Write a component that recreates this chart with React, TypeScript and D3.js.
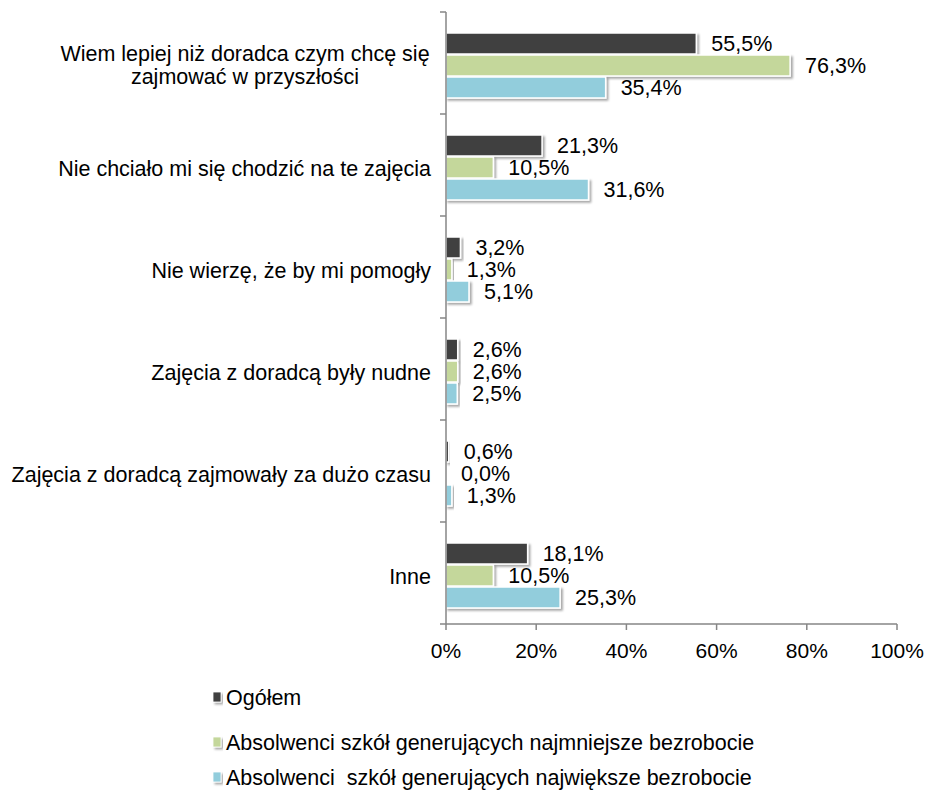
import React from "react";
import * as d3 from "d3";

const categories = [
  ["Wiem lepiej niż doradca czym chcę się", "zajmować w przyszłości"],
  ["Nie chciało mi się chodzić na te zajęcia"],
  ["Nie wierzę, że by mi pomogły"],
  ["Zajęcia z doradcą były nudne"],
  ["Zajęcia z doradcą zajmowały za dużo czasu"],
  ["Inne"],
];
const seriesNames = [
  "Ogółem",
  "Absolwenci szkół generujących najmniejsze bezrobocie",
  "Absolwenci  szkół generujących największe bezrobocie",
];
const ogolem = [55.5, 21.3, 3.2, 2.6, 0.6, 18.1];
const najmniejsze = [76.3, 10.5, 1.3, 2.6, 0.0, 10.5];
const najwieksze = [35.4, 31.6, 5.1, 2.5, 1.3, 25.3];
const xTicks = [0, 20, 40, 60, 80, 100];
const colors = ["#404040", "#c4d79b", "#92cddc"];

const W = 929;
const H = 790;
const FONT = "'Liberation Sans', Arial, sans-serif";
const FS = 21.5;

export default function App() {
  const series = [ogolem, najmniejsze, najwieksze];
  const x = d3.scaleLinear().domain([0, 100]).range([446, 897]);
  const y = d3
    .scaleBand<number>()
    .domain(categories.map((_, i) => i))
    .range([12, 624])
    .padding(0);
  const barStep = 22;
  const barH = 21;
  const fmt = (v: number) => v.toFixed(1).replace(".", ",") + "%";
  const legendY = [697, 742, 777];

  return (
    <svg
      width={W}
      height={H}
      style={{ position: "absolute", left: 0, top: 0, background: "#fff" }}
      fontFamily={FONT}
    >
      <defs>
        <filter id="sh" x="-10%" y="-30%" width="130%" height="180%">
          <feDropShadow dx="2" dy="2" stdDeviation="1.2" floodColor="#000" floodOpacity="0.35" />
        </filter>
      </defs>
      {/* bars */}
      {categories.map((_, ci) => {
        const c = (y(ci) as number) + y.bandwidth() / 2 + 3;
        return series.map((s, si) => {
          const top = c - (barStep * 3) / 2 + si * barStep;
          const v = s[ci];
          return (
            <g key={`${ci}-${si}`}>
              <rect
                x={x(0)}
                y={top}
                width={Math.max(0, x(v) - x(0))}
                height={barH}
                fill={colors[si]}
                stroke="#fff"
                strokeWidth={1.5}
                filter="url(#sh)"
              />
              <text
                x={x(v) + 15}
                y={top + barH / 2}
                dy="0.36em"
                fontSize={FS}
                fill="#000"
              >
                {fmt(v)}
              </text>
            </g>
          );
        });
      })}
      {/* y axis */}
      <line x1={446} x2={446} y1={12} y2={624} stroke="#868686" strokeWidth={1.5} />
      {categories.map((_, i) => (
        <line
          key={"yt" + i}
          x1={440}
          x2={446}
          y1={y(i) as number}
          y2={y(i) as number}
          stroke="#868686"
          strokeWidth={1.5}
        />
      ))}
      {/* x axis */}
      <line x1={440} x2={x(100)} y1={624} y2={624} stroke="#868686" strokeWidth={1.5} />
      {xTicks.map((t) => (
        <g key={"xt" + t}>
          <line x1={x(t)} x2={x(t)} y1={624} y2={630} stroke="#868686" strokeWidth={1.5} />
          <text x={x(t)} y={650} dy="0.36em" textAnchor="middle" fontSize={FS - 0.5} fill="#000">
            {t + "%"}
          </text>
        </g>
      ))}
      {/* category labels */}
      {categories.map((lines, i) => {
        const c = (y(i) as number) + y.bandwidth() / 2 + 3;
        if (lines.length === 1) {
          return (
            <text key={"cl" + i} x={431} y={c} dy="0.36em" textAnchor="end" fontSize={FS} fill="#000">
              {lines[0]}
            </text>
          );
        }
        return (
          <text key={"cl" + i} textAnchor="middle" fontSize={FS} fill="#000">
            {lines.map((l, li) => (
              <tspan key={li} x={245} y={c - 13 + li * 23} dy="0.36em">
                {l}
              </tspan>
            ))}
          </text>
        );
      })}
      {/* legend */}
      {seriesNames.map((n, i) => (
        <g key={"lg" + i}>
          <rect
            x={213}
            y={legendY[i] - 5}
            width={8}
            height={10}
            fill={colors[i]}
            stroke="#fff"
            strokeWidth={0.8}
            filter="url(#sh)"
          />
          <text x={226} y={legendY[i]} dy="0.36em" fontSize={FS} fill="#000" style={{ whiteSpace: "pre" }}>
            {n}
          </text>
        </g>
      ))}
    </svg>
  );
}
